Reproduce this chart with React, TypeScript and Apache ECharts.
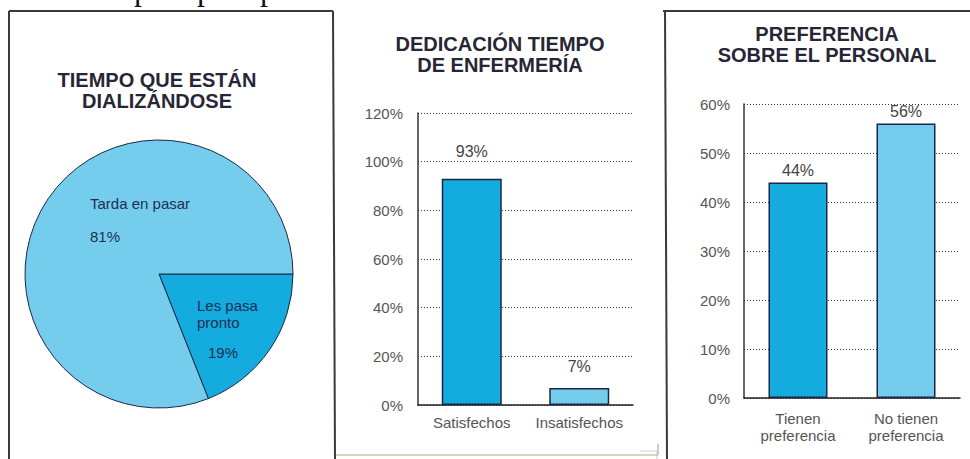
import React, { useEffect, useRef } from "react";
import * as echarts from "echarts";

// ---------- data ----------
const headerText = "Sala de espera para pacientes.";

const pieTitle = ["TIEMPO QUE ESTÁN", "DIALIZÁNDOSE"];
const pieCategories = ["Les pasa pronto", "Tarda en pasar"];
const pieValues = [19, 81];

const nursingTitle = ["DEDICACIÓN TIEMPO", "DE ENFERMERÍA"];
const nursingCategories = ["Satisfechos", "Insatisfechos"];
const nursingValues = [93, 7];

const prefTitle = ["PREFERENCIA", "SOBRE EL PERSONAL"];
const prefCategories = ["Tienen\npreferencia", "No tienen\npreferencia"];
const prefValues = [44, 56];

// ---------- styles ----------
const FONT = "Liberation Sans";
const TITLE_COLOR = "#262636";
const LABEL_COLOR = "#555";
const PIE_TEXT = "#1e2f55";
const EDGE = "#1c2744";
const DARK_BLUE = "#14abdf";
const LIGHT_BLUE = "#74cdec";
const FRAME = "#3a3a3a";

function titleText(lines: string[], cx: number, cy: number, lh: number) {
  return {
    type: "text",
    z: 100,
    x: cx,
    y: cy,
    style: {
      text: lines.join("\n"),
      fontFamily: FONT,
      fontWeight: "bold",
      fontSize: 20,
      lineHeight: lh,
      fill: TITLE_COLOR,
      align: "center",
      verticalAlign: "middle",
    },
  };
}

function line(x1: number, y1: number, x2: number, y2: number, stroke: string, w: number) {
  return { type: "line", z: 100, shape: { x1, y1, x2, y2 }, style: { stroke, lineWidth: w } };
}

function plainText(text: string, x: number, y: number, size: number, fill: string, lh?: number) {
  return {
    type: "text",
    z: 100,
    x,
    y,
    style: {
      text,
      fontFamily: FONT,
      fontSize: size,
      lineHeight: lh,
      fill,
      align: "left",
      verticalAlign: "middle",
    },
  };
}

export default function App() {
  const ref = useRef<HTMLDivElement>(null);

  useEffect(() => {
    if (!ref.current) return;
    const chart = echarts.init(ref.current, null, { renderer: "svg" });

    const barColors1 = [DARK_BLUE, LIGHT_BLUE];
    const labelDist1 = [19, 13];
    const barColors2 = [DARK_BLUE, LIGHT_BLUE];
    const labelDist2 = [4, 4];

    const option: any = {
      animation: false,
      backgroundColor: "#ffffff",
      grid: [
        { left: 418, top: 113, width: 215, height: 292 },
        { left: 744, top: 104, width: 216, height: 294 },
      ],
      xAxis: [
        {
          type: "category",
          gridIndex: 0,
          data: nursingCategories,
          axisTick: { show: false },
          axisLine: { show: true, lineStyle: { color: "#222", width: 1.5 } },
          axisLabel: { interval: 0, fontFamily: FONT, fontSize: 15, color: LABEL_COLOR, margin: 10 },
          splitLine: { show: false },
        },
        {
          type: "category",
          gridIndex: 1,
          data: prefCategories,
          axisTick: { show: false },
          axisLine: { show: true, lineStyle: { color: "#222", width: 1.5 } },
          axisLabel: { interval: 0, fontFamily: FONT, fontSize: 15, color: LABEL_COLOR, margin: 12, lineHeight: 17 },
          splitLine: { show: false },
        },
      ],
      yAxis: [
        {
          type: "value",
          gridIndex: 0,
          min: 0,
          max: 120,
          interval: 20,
          axisLine: { show: true, lineStyle: { color: "#333", width: 1.5 } },
          axisTick: { show: false },
          splitLine: { show: true, lineStyle: { color: "#333", type: [1, 2], width: 1 } },
          axisLabel: { formatter: "{value}%", fontFamily: FONT, fontSize: 15, color: LABEL_COLOR, margin: 15 },
        },
        {
          type: "value",
          gridIndex: 1,
          min: 0,
          max: 60,
          interval: 10,
          axisLine: { show: true, lineStyle: { color: "#333", width: 1.5 } },
          axisTick: { show: false },
          splitLine: { show: true, lineStyle: { color: "#333", type: [1, 2], width: 1 } },
          axisLabel: { formatter: "{value}%", fontFamily: FONT, fontSize: 15, color: LABEL_COLOR, margin: 14 },
        },
      ],
      series: [
        {
          type: "pie",
          center: [159, 274],
          radius: 134,
          startAngle: 0,
          clockwise: true,
          label: { show: false },
          labelLine: { show: false },
          itemStyle: { borderColor: EDGE, borderWidth: 1 },
          data: pieCategories.map((name, i) => ({
            name,
            value: pieValues[i],
            itemStyle: { color: i === 0 ? DARK_BLUE : LIGHT_BLUE },
          })),
        },
        {
          type: "bar",
          xAxisIndex: 0,
          yAxisIndex: 0,
          barWidth: 60,
          data: nursingValues.map((v, i) => ({
            value: v,
            itemStyle: { color: barColors1[i], borderColor: EDGE, borderWidth: 1.5 },
            label: { distance: labelDist1[i] },
          })),
          label: {
            show: true,
            position: "top",
            formatter: "{c}%",
            fontFamily: FONT,
            fontSize: 16,
            color: "#444",
          },
        },
        {
          type: "bar",
          xAxisIndex: 1,
          yAxisIndex: 1,
          barWidth: 59,
          data: prefValues.map((v, i) => ({
            value: v,
            itemStyle: { color: barColors2[i], borderColor: EDGE, borderWidth: 1.5 },
            label: { distance: labelDist2[i] },
          })),
          label: {
            show: true,
            position: "top",
            formatter: "{c}%",
            fontFamily: FONT,
            fontSize: 16,
            color: "#444",
          },
        },
      ],
      graphic: [
        {
          type: "text",
          z: 100,
          x: 6,
          y: -11,
          style: {
            text: headerText,
            fontFamily: "Liberation Serif",
            fontSize: 32,
            fill: "#111",
            align: "left",
            verticalAlign: "middle",
          },
        },
        // frames
        line(9, 11, 333, 11, FRAME, 2),
        line(9, 11, 9, 459, FRAME, 2),
        line(333, 11, 335, 459, FRAME, 2),
        line(336, 455, 658, 455, "#d6d6c4", 2),
        line(658, 444, 658, 455, "#b8b8b8", 1.5),
        line(663, 11, 970, 11, FRAME, 2),
        line(665, 11, 667, 459, FRAME, 2),
        line(640, 451, 657, 451, "#e0c8c8", 1),
        line(657, 451, 657, 459, "#c8c8c8", 1),
        // titles
        titleText(pieTitle, 157, 90.5, 21),
        titleText(nursingTitle, 500, 54.5, 21),
        titleText(prefTitle, 827, 44.5, 21),
        // pie labels
        plainText(pieCategories[1], 90, 203, 15, PIE_TEXT),
        plainText(`${pieValues[1]}%`, 90, 236, 15, PIE_TEXT),
        plainText("Les pasa\npronto", 197, 313.5, 15, PIE_TEXT, 17),
        plainText(`${pieValues[0]}%`, 208, 352, 15, PIE_TEXT),
      ],
    };

    chart.setOption(option);
    return () => chart.dispose();
  }, []);

  return (
    <div
      ref={ref}
      style={{ position: "fixed", left: 0, top: 0, width: 970, height: 459, background: "#fff" }}
    />
  );
}
